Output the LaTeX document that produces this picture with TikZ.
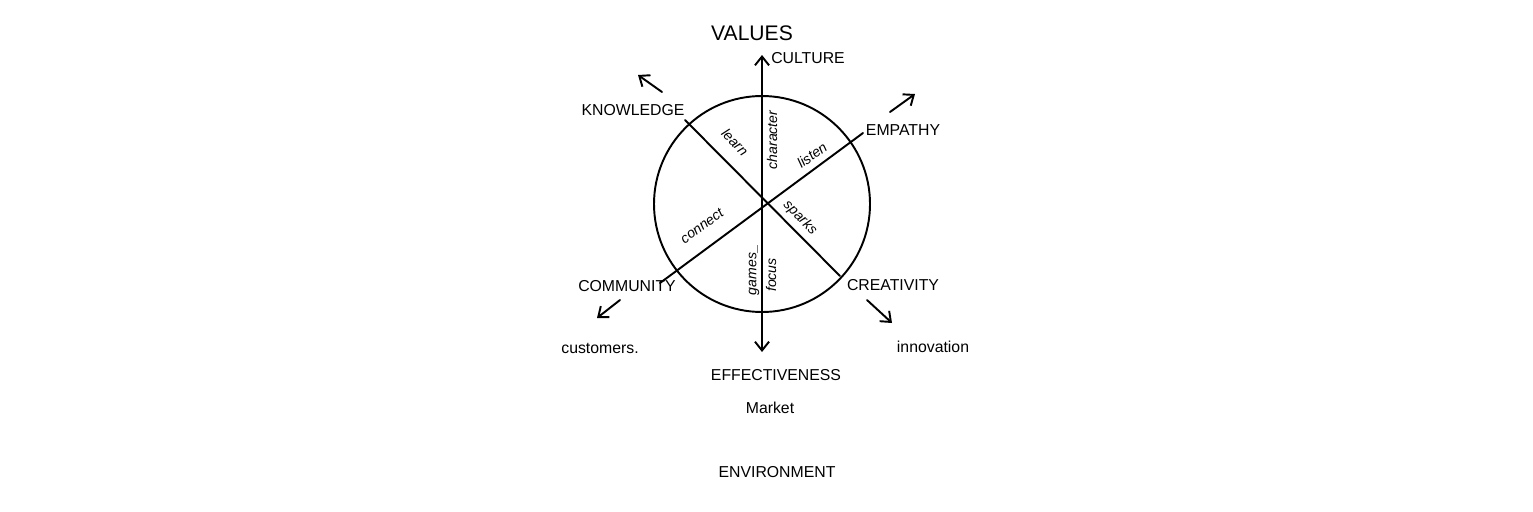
\documentclass[tikz,border=0pt]{standalone}
\usepackage{fontspec}
\setmainfont{Liberation Sans}
\usetikzlibrary{arrows.meta}
\begin{document}
\begin{tikzpicture}[x=0.02cm,y=-0.02cm,
  ln/.style={line width=1.1pt,line cap=round},
  arr/.style={ln,-{Straight Barb[length=5pt,width=8pt]}},
  big/.style={font=\large},
  small/.style={font=\small},
  inner/.style={font=\itshape\footnotesize,inner sep=0.5pt}]
\useasboundingbox (0,0) rectangle (1533,511);
\coordinate (c) at (762,204);
\node[ln,draw,circle,minimum size=216*0.02cm,inner sep=0] (circ) at (c) {};
\coordinate (vt) at (762,55);
\coordinate (vb) at (762,352);
\coordinate (kn) at (685,120);
\coordinate (cr) at (840,276);
\coordinate (em) at (863,133);
\coordinate (co) at (660,283);
\draw[arr] (c) -- (vt);
\draw[arr] (c) -- (vb);
\draw[ln] (kn) -- (cr);
\draw[ln] (em) -- (co);
\coordinate (ka) at (662,92); \coordinate (kb) at (638,75);
\coordinate (ea) at (890,112); \coordinate (eb) at (915,94);
\coordinate (ca) at (620,300); \coordinate (cb) at (597,318);
\coordinate (ra) at (867,300); \coordinate (rb) at (892,323);
\draw[arr] (ka) -- (kb);
\draw[arr] (ea) -- (eb);
\draw[arr] (ca) -- (cb);
\draw[arr] (ra) -- (rb);
\node[big] (values) at (752,33) {VALUES};
\node[small] (culture) at (808,58) {CULTURE};
\node[small] (knowledge) at (633,110) {KNOWLEDGE};
\node[small] (empathy) at (903,130) {EMPATHY};
\node[small] (community) at (627,286) {COMMUNITY};
\node[small] (creativity) at (893,285) {CREATIVITY};
\node[small] (customers) at (600,348) {customers.};
\node[small] (innovation) at (933,347) {innovation};
\node[small] (eff) at (776,375) {EFFECTIVENESS};
\node[small] (market) at (770,408) {Market};
\node[small] (env) at (777,472) {ENVIRONMENT};
\node[inner,rotate=-46] (learn) at (735,142) {learn};
\node[inner,rotate=90] (char) at (772,140) {character};
\node[inner,rotate=36] (listen) at (812,155) {listen};
\node[inner,rotate=36] (connect) at (702,226) {connect};
\node[inner,rotate=-45] (sparks) at (800,218) {sparks};
\node[inner,rotate=90] (games) at (754,270) {games\_};
\node[inner,rotate=90] (focus) at (771,275) {focus};
\end{tikzpicture}
\end{document}
